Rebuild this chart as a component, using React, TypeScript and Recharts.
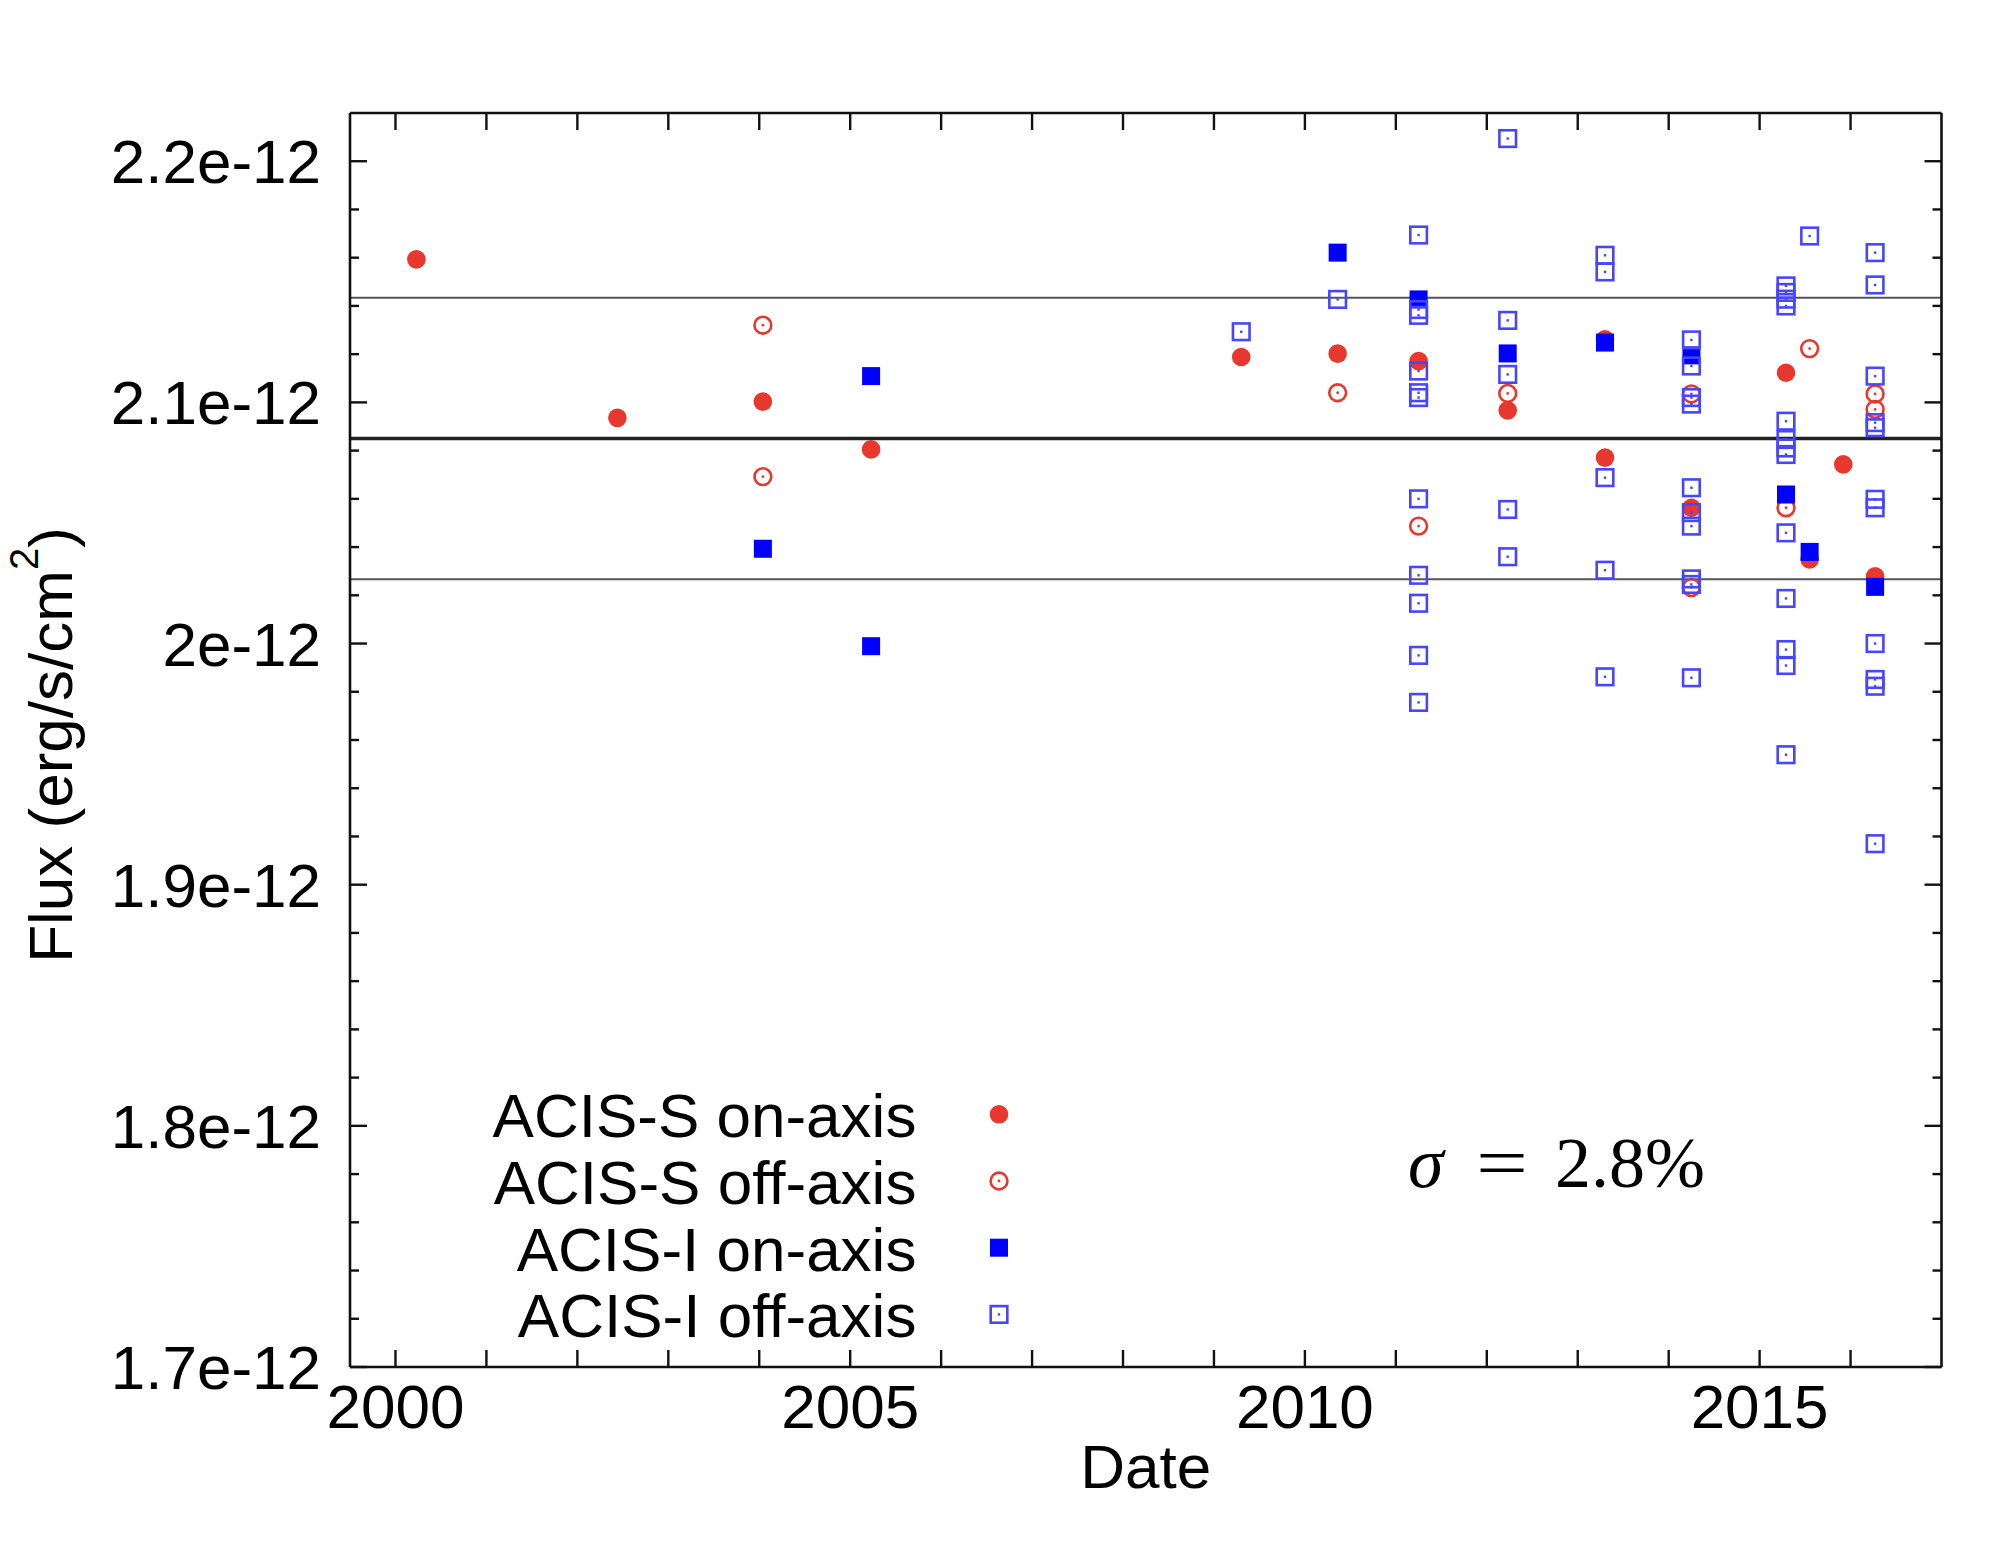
import React from 'react';
import { ScatterChart, Scatter, XAxis, YAxis, ReferenceLine, Legend } from 'recharts';

// ---------------- data (flux in units of 1e-12 erg/s/cm^2) ----------------
const acisSOnAxis: [number, number][] = [
  [2000.23, 2.1593], [2002.44, 2.0936], [2004.04, 2.1003], [2005.23, 2.0805],
  [2009.3, 2.1188], [2010.36, 2.1202], [2011.25, 2.1171], [2012.23, 2.0967],
  [2013.3, 2.1262], [2013.3, 2.0771], [2014.25, 2.0563], [2015.29, 2.1123],
  [2015.55, 2.0349], [2015.92, 2.0743], [2016.27, 2.0279],
];

const acisSOffAxis: [number, number][] = [
  [2004.04, 2.132], [2004.04, 2.0692], [2010.36, 2.104], [2011.25, 2.0487],
  [2012.23, 2.1037], [2014.25, 2.1035], [2014.25, 2.0232], [2015.29, 2.0563],
  [2015.55, 2.1223], [2016.27, 2.1035], [2016.27, 2.0971],
];

const acisIOnAxis: [number, number][] = [
  [2004.04, 2.0393], [2005.23, 2.1109], [2005.23, 1.9989], [2010.36, 2.1621],
  [2011.25, 2.1427], [2012.23, 2.1203], [2013.3, 2.1248], [2014.25, 2.1195],
  [2015.29, 2.0618], [2015.55, 2.038], [2016.27, 2.0235],
];

const acisIOffAxis: [number, number][] = [
  [2009.3, 2.1293],
  [2010.36, 2.1427],
  [2011.25, 2.1694], [2011.25, 2.1385], [2011.25, 2.1361], [2011.25, 2.113], [2011.25, 2.104],
  [2011.25, 2.102], [2011.25, 2.06], [2011.25, 2.0283], [2011.25, 2.0167], [2011.25, 1.9951],
  [2011.25, 1.9756],
  [2012.23, 2.2094], [2012.23, 2.134], [2012.23, 2.1116], [2012.23, 2.0556], [2012.23, 2.036],
  [2013.3, 2.161], [2013.3, 2.1541], [2013.3, 2.0688], [2013.3, 2.0304], [2013.3, 1.9862],
  [2014.25, 2.1259], [2014.25, 2.1151], [2014.25, 2.102], [2014.25, 2.0993], [2014.25, 2.0646],
  [2014.25, 2.0543], [2014.25, 2.0487], [2014.25, 2.0268], [2014.25, 2.0245], [2014.25, 1.9858],
  [2015.29, 2.1483], [2015.29, 2.1456], [2015.29, 2.1428], [2015.29, 2.14], [2015.29, 2.0922],
  [2015.29, 2.0846], [2015.29, 2.0811], [2015.29, 2.0784], [2015.29, 2.0459], [2015.29, 2.0187],
  [2015.29, 1.9975], [2015.29, 1.9909], [2015.29, 1.9539],
  [2015.55, 2.169],
  [2016.27, 2.1621], [2016.27, 2.1487], [2016.27, 2.1109], [2016.27, 2.0916], [2016.27, 2.0895],
  [2016.27, 2.0598], [2016.27, 2.0563], [2016.27, 2.0], [2016.27, 1.9851], [2016.27, 1.9823],
  [2016.27, 1.917],
];

const xTicks = [2000, 2001, 2002, 2003, 2004, 2005, 2006, 2007, 2008, 2009, 2010, 2011, 2012, 2013, 2014, 2015, 2016];
const xLabelYears = [2000, 2005, 2010, 2015];
const yTicks = [
  1.7, 1.72, 1.74, 1.76, 1.78, 1.8, 1.82, 1.84, 1.86, 1.88, 1.9, 1.92, 1.94,
  1.96, 1.98, 2.0, 2.02, 2.04, 2.06, 2.08, 2.1, 2.12, 2.14, 2.16, 2.18, 2.2,
];
const yLabelValues = [1.7, 1.8, 1.9, 2.0, 2.1, 2.2];
const meanFlux = 2.085;
const sigmaFrac = 0.028;
const bandLines = [
  { y: meanFlux * (1 + sigmaFrac), main: false },
  { y: meanFlux, main: true },
  { y: meanFlux * (1 - sigmaFrac), main: false },
];

const seriesNames = ['ACIS-S on-axis', 'ACIS-S off-axis', 'ACIS-I on-axis', 'ACIS-I off-axis'];

// ---------------- styling ----------------
const W = 2002;
const H = 1540;
const RED = '#e8372c';
const BLUE = '#0000ff';
const LBLUE = '#4646ff';
const INK = '#111';
const SANS = '"Liberation Sans", Arial, Helvetica, sans-serif';
const SERIF = '"Liberation Serif", "Times New Roman", serif';
const FS = 62;

const toPoints = (arr: [number, number][]) => arr.map(([date, flux]) => ({ date, flux }));

const FilledCircle = ({ cx, cy }: any) => <circle cx={cx} cy={cy} r={9.3} fill={RED} />;
const OpenCircle = ({ cx, cy }: any) => (
  <g>
    <circle cx={cx} cy={cy} r={8.4} fill="none" stroke={RED} strokeWidth={2.6} />
    <circle cx={cx} cy={cy} r={1.4} fill={RED} />
  </g>
);
const FilledSquare = ({ cx, cy }: any) => <rect x={cx - 9} y={cy - 9} width={18} height={18} fill={BLUE} />;
const OpenSquare = ({ cx, cy }: any) => (
  <g>
    <rect x={cx - 8.3} y={cy - 8.3} width={16.6} height={16.6} fill="none" stroke={LBLUE} strokeWidth={2.6} />
    <rect x={cx - 1.2} y={cy - 1.2} width={2.4} height={2.4} fill={LBLUE} />
  </g>
);

const markerFor: Record<string, (p: any) => any> = {
  'ACIS-S on-axis': FilledCircle,
  'ACIS-S off-axis': OpenCircle,
  'ACIS-I on-axis': FilledSquare,
  'ACIS-I off-axis': OpenSquare,
};

const isIn = (v: number, list: number[]) => list.some((t) => Math.abs(t - v) < 1e-6);
const fmtY = (v: number) => `${Math.round(v * 10) / 10}e-12`;

const LeftTick = (props: any) => {
  const { x, y, payload } = props;
  const major = isIn(payload.value, yLabelValues);
  return (
    <g>
      <line x1={x} x2={x + (major ? 17 : 9)} y1={y} y2={y} stroke={INK} strokeWidth={2.4} />
      {major && (
        <text x={x - 29} y={y + 22} textAnchor="end" fontSize={FS} fontFamily={SANS} fill="#000">
          {fmtY(payload.value)}
        </text>
      )}
    </g>
  );
};
const RightTick = (props: any) => {
  const { x, y, payload } = props;
  const major = isIn(payload.value, yLabelValues);
  return <line x1={x} x2={x - (major ? 17 : 9)} y1={y} y2={y} stroke={INK} strokeWidth={2.4} />;
};
const BottomTick = (props: any) => {
  const { x, y, payload } = props;
  const lab = isIn(payload.value, xLabelYears);
  return (
    <g>
      <line x1={x} x2={x} y1={y} y2={y - 17} stroke={INK} strokeWidth={2.4} />
      {lab && (
        <text x={x} y={y + 61} textAnchor="middle" fontSize={FS} fontFamily={SANS} fill="#000">
          {payload.value}
        </text>
      )}
    </g>
  );
};
const TopTick = (props: any) => {
  const { x, y } = props;
  return <line x1={x} x2={x} y1={y} y2={y + 17} stroke={INK} strokeWidth={2.4} />;
};

const LegendBox = (props: any) => {
  const payload = [...(props.payload || [])].sort(
    (a: any, b: any) => seriesNames.indexOf(String(a.value)) - seriesNames.indexOf(String(b.value)),
  );
  const baseline0 = 1129.3;
  const step = 66.7;
  return (
    <svg width={W} height={H} style={{ position: 'absolute', left: 0, top: 0, overflow: 'visible' }}>
      {payload.map((entry: any, i: number) => {
        const name = String(entry.value);
        const M = markerFor[name] || FilledCircle;
        const by = baseline0 + i * step;
        return (
          <g key={name}>
            <text x={908.4} y={by} textAnchor="end" fontSize={FS} fontFamily={SANS} fill="#000">
              {name}
            </text>
            <M cx={991} cy={by - 23} />
          </g>
        );
      })}
    </svg>
  );
};

const axisLineStyle = { stroke: INK, strokeWidth: 2.6 };

export default function App() {
  const dS1 = toPoints(acisSOnAxis);
  const dS2 = toPoints(acisSOffAxis);
  const dI1 = toPoints(acisIOnAxis);
  const dI2 = toPoints(acisIOffAxis);
  return (
    <div style={{ position: 'relative', width: W, height: H }}>
      <ScatterChart width={W} height={H} margin={{ top: 75, right: 8.5, bottom: 151, left: 282 }}>
        <XAxis
          xAxisId="b"
          dataKey="date"
          type="number"
          orientation="bottom"
          domain={[1999.5, 2017]}
          ticks={xTicks}
          interval={0}
          allowDataOverflow
          tickSize={0}
          tickMargin={0}
          tickLine={false}
          axisLine={axisLineStyle}
          tick={BottomTick}
          height={30}
        />
        <XAxis
          xAxisId="t"
          dataKey="date"
          type="number"
          orientation="top"
          domain={[1999.5, 2017]}
          ticks={xTicks}
          interval={0}
          allowDataOverflow
          tickSize={0}
          tickMargin={0}
          tickLine={false}
          axisLine={axisLineStyle}
          tick={TopTick}
          height={30}
        />
        <YAxis
          yAxisId="l"
          dataKey="flux"
          type="number"
          orientation="left"
          domain={[1.7, 2.22]}
          ticks={yTicks}
          interval={0}
          allowDataOverflow
          tickSize={0}
          tickMargin={0}
          tickLine={false}
          axisLine={axisLineStyle}
          tick={LeftTick}
          width={60}
        />
        <YAxis
          yAxisId="r"
          dataKey="flux"
          type="number"
          orientation="right"
          domain={[1.7, 2.22]}
          ticks={yTicks}
          interval={0}
          allowDataOverflow
          tickSize={0}
          tickMargin={0}
          tickLine={false}
          axisLine={axisLineStyle}
          tick={RightTick}
          width={60}
        />
        {bandLines.map((b, i) => (
          <ReferenceLine
            key={i}
            xAxisId="b"
            yAxisId="l"
            y={b.y}
            stroke={b.main ? '#222' : '#555'}
            strokeWidth={b.main ? 3.4 : 2}
          />
        ))}
        <Scatter name={seriesNames[0]} data={dS1} xAxisId="b" yAxisId="l" fill={RED} shape={FilledCircle} isAnimationActive={false} />
        <Scatter name={seriesNames[1]} data={dS2} xAxisId="b" yAxisId="l" fill={RED} shape={OpenCircle} isAnimationActive={false} />
        <Scatter name={seriesNames[2]} data={dI1} xAxisId="b" yAxisId="l" fill={BLUE} shape={FilledSquare} isAnimationActive={false} />
        <Scatter name={seriesNames[3]} data={dI2} xAxisId="b" yAxisId="l" fill={LBLUE} shape={OpenSquare} isAnimationActive={false} />
        <Legend
          layout="vertical"
          align="center"
          verticalAlign="middle"
          content={LegendBox}
          wrapperStyle={{ position: 'absolute', left: 0, top: 0, width: W, height: H, pointerEvents: 'none' }}
        />
      </ScatterChart>
      <svg
        width={W}
        height={H}
        style={{ position: 'absolute', left: 0, top: 0, pointerEvents: 'none', overflow: 'visible' }}
      >
        <text
          transform="translate(64, 737) rotate(-90)"
          textAnchor="middle"
          fontSize={FS}
          fontFamily={SANS}
          fill="#000"
        >
          Flux (erg/s/cm
          <tspan dy={-34} fontSize={40}>2</tspan>
          <tspan dy={34}>)</tspan>
        </text>
        <text x={1137.75} y={1480} textAnchor="middle" fontSize={FS} fontFamily={SANS} fill="#000">
          Date
        </text>
        <text x={1400} y={1179} fontSize={72} fontFamily={SERIF} fontStyle="italic" fill="#000">
          σ
        </text>
        <text x={1468} y={1179} fontSize={72} fontFamily={SERIF} fill="#000" textLength={52} lengthAdjust="spacingAndGlyphs">
          =
        </text>
        <text x={1547} y={1179} fontSize={72} fontFamily={SERIF} fill="#000" textLength={150} lengthAdjust="spacingAndGlyphs">
          2.8%
        </text>
      </svg>
    </div>
  );
}
